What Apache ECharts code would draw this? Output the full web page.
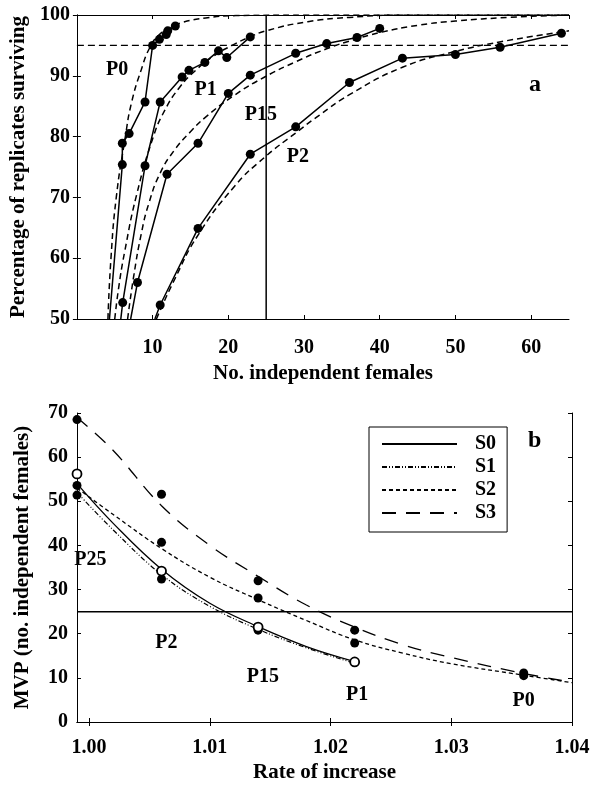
<!DOCTYPE html>
<html>
<head>
<meta charset="utf-8">
<script src="https://cdn.jsdelivr.net/npm/echarts@6/dist/echarts.min.js"></script>
<style>
html, body { margin: 0; padding: 0; background: #fff; }
#chart { width: 593px; height: 787px; }
</style>
</head>
<body>
<div id="chart"></div>
<script>
// ---- panel a : survival vs number of females ----
const p0X = [4.3, 6.0, 6.0, 6.9, 9.0, 10.0, 10.9, 11.8, 12.0, 13.0];
const p0Y = [50, 75.4, 78.9, 80.5, 85.7, 95.0, 96.0, 96.8, 97.4, 98.2];
const p1X = [5.8, 6.05, 9.0, 11.0, 13.9, 14.8, 16.9, 18.7, 19.8, 22.9];
const p1Y = [50, 52.7, 75.2, 85.7, 89.8, 90.9, 92.2, 94.1, 93.0, 96.4];
const p15X = [7.1, 8.0, 11.9, 16.0, 20.0, 22.9, 28.9, 33.0, 37.0, 40.0];
const p15Y = [50, 56.0, 73.8, 78.9, 87.1, 90.1, 93.7, 95.3, 96.3, 97.8];
const p2X = [10.3, 11.0, 16.0, 22.9, 28.9, 36.0, 43.0, 50.0, 55.9, 64.0];
const p2Y = [50, 52.3, 64.9, 77.1, 81.6, 88.9, 92.9, 93.5, 94.7, 97.0];

// fitted (dashed) curves
const fitP0X = [4.1, 4.5, 5.2, 6.4, 7.2, 8.5, 9.7, 11, 12.5, 14, 17, 21, 30, 65];
const fitP0Y = [50, 60, 70, 80, 85.5, 91, 94.8, 96.9, 98, 98.8, 99.5, 99.9, 100, 100];
const fitP1X = [5.0, 5.5, 6.3, 7.9, 10.1, 11.6, 13.5, 15.6, 18, 20.5, 22.5, 25, 30.5, 36, 43, 65];
const fitP1Y = [50, 55, 61, 70.5, 80, 84.3, 88, 90.8, 93.2, 95, 96.2, 97.4, 98.9, 99.6, 100, 100];
const fitP15X = [6.7, 7.5, 8.5, 9.5, 11, 12.9, 15, 17, 20.8, 24.8, 28.9, 32.9, 36.5, 40, 45, 50, 57, 65];
const fitP15Y = [50, 57, 64, 69, 74, 77.8, 80.8, 83.2, 86.8, 89.8, 92.3, 94.4, 95.9, 97.1, 98.3, 99, 99.6, 100];
const fitP2X = [10.5, 12.9, 16, 20.8, 24.8, 28.9, 32, 36, 43, 50, 56, 65];
const fitP2Y = [50, 56.5, 63.8, 71.8, 76.6, 80.6, 83.5, 86.9, 91.4, 94.0, 95.6, 97.4];

const survivalTarget = 95;
const femaleTarget = 25;

// ---- panel b : MVP vs rate of increase ----
const rateX = [0.999, 1.002, 1.006, 1.010, 1.014, 1.018, 1.022];
const s0Y = [54, 45, 34.6, 26.9, 21.6, 17.1, 13.7];
const s1Y = [52, 43.5, 33.4, 26.2, 21.0, 16.8, 13.3];
const rateLongX = [0.999, 1.002, 1.006, 1.010, 1.014, 1.018, 1.022, 1.026, 1.030, 1.036, 1.040];
const s2Y = [53, 47, 39.3, 32.8, 27.7, 23.0, 18.6, 15.6, 13.2, 10.6, 8.9];
const s3Y = [69, 61.5, 49, 40, 33, 26.5, 21.5, 17.5, 14.6, 11.0, 9.0];

const filledX = [0.999, 0.999, 0.999, 1.006, 1.006, 1.006, 1.014, 1.014, 1.014, 1.022, 1.022, 1.036, 1.036];
const filledY = [68.5, 53.6, 51.4, 51.6, 40.7, 32.4, 32.0, 28.1, 20.8, 20.8, 17.9, 11.1, 10.5];
const openX = [0.999, 1.006, 1.014, 1.022];
const openY = [56.2, 34.2, 21.5, 13.6];
const mvpTarget = 25;

const rateTicks = [1.00, 1.01, 1.02, 1.03, 1.04];

// text annotations
const labelsA = [['P0', 5.3, 91], ['P1', 17, 87.7], ['P15', 24.3, 83.6], ['P2', 29.2, 76.7]];
const labelsB = [['P25', 1.0001, 36.8], ['P2', 1.0064, 17.9], ['P15', 1.0144, 10.3], ['P1', 1.0222, 6.2], ['P0', 1.036, 4.7]];

const zip = (xs, ys) => xs.map((x, i) => [x, ys[i]]);
const font = 'Liberation Serif';
const txt = { fontFamily: font, fontWeight: 'bold', color: '#000', fontSize: 20 };
const title = Object.assign({}, txt, { fontSize: 21 });

function axisBase(extra) {
  return Object.assign({
    type: 'value',
    axisLine: { show: true, lineStyle: { color: '#000', width: 1 } },
    axisTick: { show: true, inside: true, length: 4, lineStyle: { color: '#000' } },
    splitLine: { show: false },
    axisLabel: Object.assign({}, txt)
  }, extra);
}

function solidSeries(name, xs, ys) {
  return {
    name: name, type: 'line', xAxisIndex: 0, yAxisIndex: 0,
    data: zip(xs, ys), symbol: 'circle',
    symbolSize: (v, p) => (p.dataIndex === 0 ? 0 : 9),
    itemStyle: { color: '#000' },
    lineStyle: { color: '#000', width: 1.5 }, z: 4
  };
}
function fitSeries(xs, ys) {
  return {
    type: 'line', xAxisIndex: 0, yAxisIndex: 0,
    data: zip(xs, ys), symbol: 'none', smooth: 0.5,
    lineStyle: { color: '#000', width: 1.5, type: [6, 4] }, z: 3
  };
}
function labelSeries(items, xi, yi, size) {
  return {
    type: 'scatter', xAxisIndex: xi, yAxisIndex: yi, symbolSize: 0, silent: true,
    itemStyle: { opacity: 1 },
    data: items.map(d => ({ name: d[0], value: [d[1], d[2]] })),
    label: Object.assign({ show: true, position: 'inside', formatter: '{b}' }, txt, { fontSize: size || 20 }),
    z: 6
  };
}
function curve(name, xs, ys, width, type) {
  return {
    name: name, type: 'line', xAxisIndex: 2, yAxisIndex: 2, symbol: 'none', smooth: 0.4,
    data: zip(xs, ys), itemStyle: { color: 'rgba(0,0,0,0)', borderWidth: 0 },
    lineStyle: { color: '#000', width: width, type: type }, z: 3
  };
}

const chart = echarts.init(document.getElementById('chart'));
chart.setOption({
  animation: false,
  backgroundColor: '#fff',
  grid: [
    { left: 75, top: 15, width: 494, height: 304 },
    { left: 77, top: 413, width: 495, height: 309 }
  ],
  xAxis: [
    axisBase({ gridIndex: 0, min: 0, max: 65, interval: 10,
      axisLabel: Object.assign({}, txt, { showMinLabel: false, showMaxLabel: false, margin: 19 }),
      name: 'No. independent females', nameLocation: 'middle', nameGap: 44, nameTextStyle: title }),
    axisBase({ gridIndex: 0, min: 0, max: 65, interval: 10, position: 'top', axisLabel: { show: false } }),
    axisBase({ gridIndex: 1, min: 0.999, max: 1.04,
      axisTick: { show: true, inside: true, length: 4, lineStyle: { color: '#000' }, customValues: rateTicks },
      axisLabel: Object.assign({}, txt, { customValues: rateTicks, margin: 16, formatter: v => v.toFixed(2) }),
      name: 'Rate of increase', nameLocation: 'middle', nameGap: 40, nameTextStyle: title }),
    axisBase({ gridIndex: 1, min: 0.999, max: 1.04, position: 'top',
      axisTick: { show: true, inside: true, length: 4, lineStyle: { color: '#000' }, customValues: rateTicks },
      axisLabel: { show: false } })
  ],
  yAxis: [
    axisBase({ gridIndex: 0, min: 50, max: 100, interval: 10,
      axisLabel: Object.assign({}, txt, { margin: 7 }),
      name: 'Percentage of replicates surviving', nameLocation: 'middle', nameGap: 42, nameTextStyle: title }),
    axisBase({ gridIndex: 0, min: 50, max: 100, interval: 10, position: 'right', axisLabel: { show: false } }),
    axisBase({ gridIndex: 1, min: 0, max: 70, interval: 10,
      axisLabel: Object.assign({}, txt, { margin: 9 }),
      name: 'MVP (no. independent females)', nameLocation: 'middle', nameGap: 44, nameTextStyle: title }),
    axisBase({ gridIndex: 1, min: 0, max: 70, interval: 10, position: 'right', axisLabel: { show: false } })
  ],
  legend: {
    data: ['S0', 'S1', 'S2', 'S3'],
    orient: 'vertical', left: 369, top: 427,
    padding: [7, 11, 9, 12], itemGap: 3,
    itemWidth: 75, itemHeight: 14,
    itemStyle: { color: 'rgba(0,0,0,0)', borderWidth: 0 },
    borderColor: '#000', borderWidth: 1,
    textStyle: Object.assign({}, txt, { lineHeight: 20, padding: [0, 0, 0, 13] })
  },
  series: [
    // panel a
    {
      type: 'line', xAxisIndex: 0, yAxisIndex: 0, symbol: 'none',
      data: [[0, survivalTarget], [65, survivalTarget]],
      lineStyle: { color: '#000', width: 1.3, type: [7, 4] }, z: 2
    },
    {
      type: 'line', xAxisIndex: 0, yAxisIndex: 0, symbol: 'none',
      data: [[femaleTarget, 50], [femaleTarget, 100]],
      lineStyle: { color: '#000', width: 1.5 }, z: 2
    },
    fitSeries(fitP0X, fitP0Y),
    fitSeries(fitP1X, fitP1Y),
    fitSeries(fitP15X, fitP15Y),
    fitSeries(fitP2X, fitP2Y),
    solidSeries('P0', p0X, p0Y),
    solidSeries('P1', p1X, p1Y),
    solidSeries('P15', p15X, p15Y),
    solidSeries('P2', p2X, p2Y),
    labelSeries(labelsA, 0, 0),
    labelSeries([['a', 60.5, 88.5]], 0, 0, 24),
    // panel b
    {
      type: 'line', xAxisIndex: 2, yAxisIndex: 2, symbol: 'none',
      data: [[0.999, mvpTarget], [1.04, mvpTarget]],
      lineStyle: { color: '#000', width: 1.5 }, z: 2
    },
    curve('S0', rateX, s0Y, 1.3, 'solid'),
    curve('S1', rateX, s1Y, 1.2, [5, 2, 1, 2, 1, 2]),
    curve('S2', rateLongX, s2Y, 1.3, [4, 3]),
    curve('S3', rateLongX, s3Y, 1.3, [14, 10]),
    {
      type: 'scatter', xAxisIndex: 2, yAxisIndex: 2, symbol: 'circle', symbolSize: 9,
      data: zip(filledX, filledY), itemStyle: { color: '#000', opacity: 1 }, z: 5
    },
    {
      type: 'scatter', xAxisIndex: 2, yAxisIndex: 2, symbol: 'circle', symbolSize: 9,
      data: zip(openX, openY), itemStyle: { color: '#fff', borderColor: '#000', borderWidth: 1.8, opacity: 1 }, z: 5
    },
    labelSeries(labelsB, 2, 2),
    labelSeries([['b', 1.0369, 63.6]], 2, 2, 24)
  ]
});
</script>
</body>
</html>
